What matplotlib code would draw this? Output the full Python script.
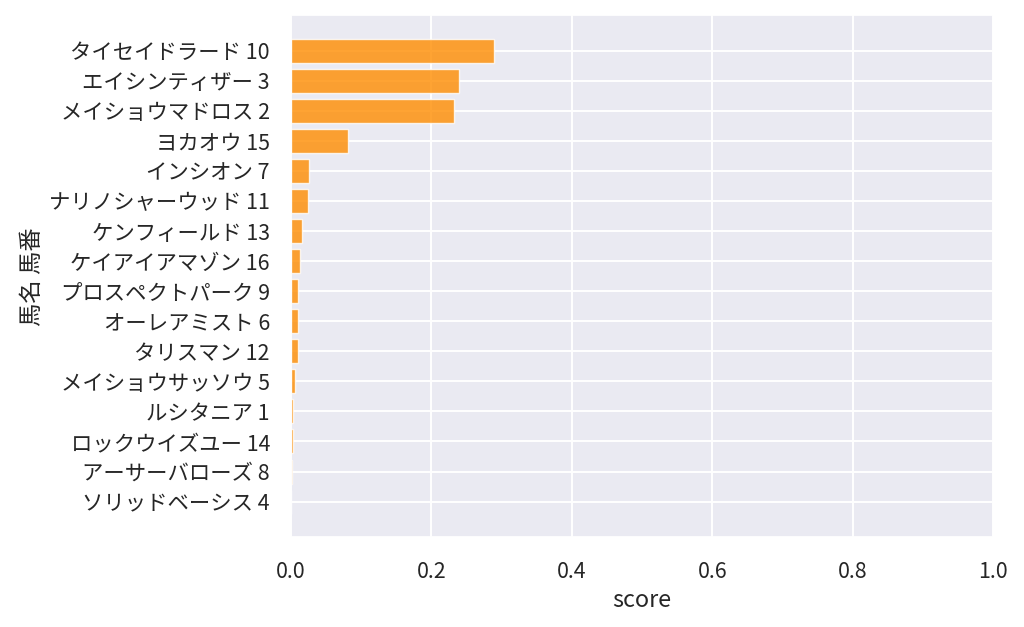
import numpy as np
import matplotlib
matplotlib.use("Agg")
import matplotlib.pyplot as plt
import seaborn as sns

sns.set_theme(style="darkgrid", font_scale=1.4)
plt.rcParams['font.family'] = ['Noto Sans CJK JP', 'DejaVu Sans']
plt.rcParams['grid.linewidth'] = 1.4

# horse name + number, top to bottom
horses = ["タイセイドラード 10", "エイシンティザー 3", "メイショウマドロス 2", "ヨカオウ 15",
          "インシオン 7", "ナリノシャーウッド 11", "ケンフィールド 13", "ケイアイアマゾン 16",
          "プロスペクトパーク 9", "オーレアミスト 6", "タリスマン 12", "メイショウサッソウ 5",
          "ルシタニア 1", "ロックウイズユー 14", "アーサーバローズ 8", "ソリッドベーシス 4"]
scores = [0.289, 0.239, 0.232, 0.081, 0.026, 0.024, 0.016, 0.013,
          0.0105, 0.0105, 0.010, 0.0057, 0.0034, 0.003, 0.001, 0.0003]

fig, ax = plt.subplots(figsize=(10.24, 6.27), dpi=100)
y = np.arange(len(horses))
ax.barh(y, scores, height=0.8, color="darkorange", alpha=0.8,
        edgecolor="white", linewidth=1)
ax.set_yticks(y)
ax.set_yticklabels(horses)
ax.invert_yaxis()
ax.set_xlim(0, 1.0)
ax.tick_params(axis="y", pad=9)
ax.tick_params(axis="x", pad=11)
ax.set_xlabel("score")
ax.set_ylabel("馬名 馬番")

fig.subplots_adjust(left=0.284, right=0.970, top=0.976, bottom=0.143)
fig.savefig("out.png")
